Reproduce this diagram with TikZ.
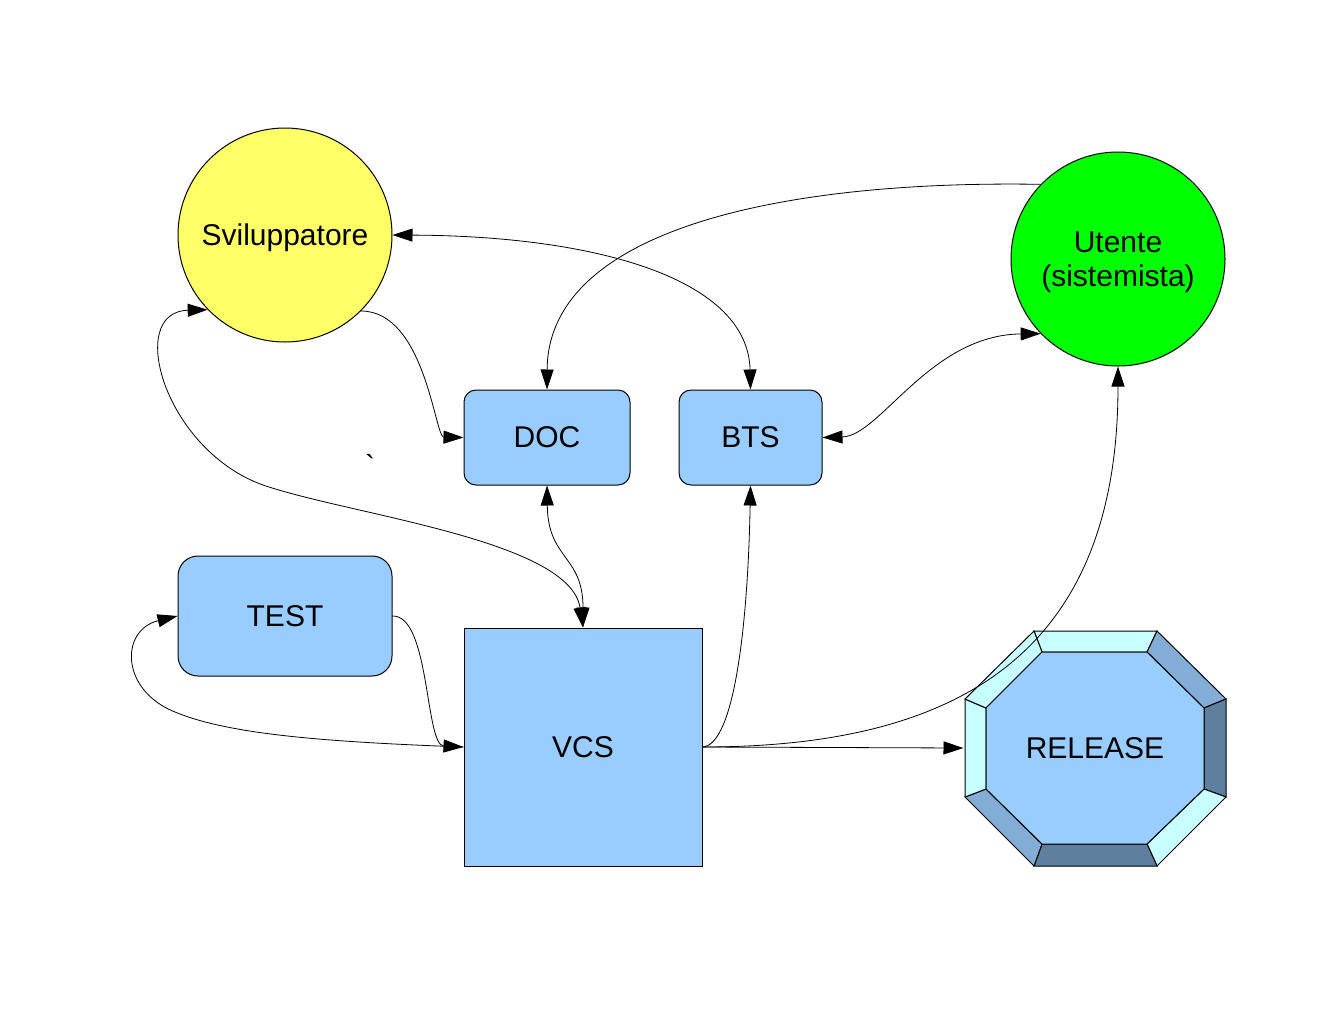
\documentclass[tikz,border=0pt]{standalone}
\usepackage{fontspec}
\setmainfont{Liberation Sans}
\usepackage{tikz}
\usetikzlibrary{arrows.meta, positioning}
\definecolor{devyellow}{RGB}{255,255,102}
\definecolor{usrgreen}{RGB}{0,255,0}
\definecolor{toolblue}{RGB}{153,204,255}
\definecolor{bevlight}{RGB}{200,255,255}
\definecolor{bevmid}{RGB}{131,173,215}
\definecolor{bevdark}{RGB}{95,127,159}
\newcommand{\diagfont}{\fontsize{30}{34}\selectfont}

\begin{document}
\begin{tikzpicture}[x=1pt, y=-1pt, line width=1pt,
  >={Triangle[length=20pt, width=13pt]},
  actor/.style={circle, draw, inner sep=0pt, minimum size=214pt, align=center, text depth=0pt, font=\diagfont},
  toolbox/.style={draw, fill=toolblue, rounded corners=12pt, inner sep=0pt, minimum height=95pt, font=\diagfont},
  flow/.style={line width=0.8pt}]
  \useasboundingbox (0,0) rectangle (1331,1029);

  % actors
  \node[actor, fill=devyellow] (svil) at (285,235) {Sviluppatore};
  \node[actor, fill=usrgreen] (utente) at (1118,259) {Utente\\(sistemista)};

  % tools
  \node[toolbox, minimum width=166pt] (doc) at (547,437.5) {DOC};
  \node[toolbox, minimum width=143pt, right=48pt of doc] (bts) {BTS};
  \node[toolbox, minimum width=214pt, minimum height=120pt, rounded corners=20pt] (test) at (285,616) {TEST};
  \node[draw, fill=toolblue, inner sep=0pt, minimum size=238pt, font=\diagfont] (vcs) at (583,747) {VCS};

  % release: bevelled octagon
  \filldraw[fill=bevlight] (1034,631) -- (1157,631) -- (1147,652) -- (1042,652) -- cycle;
  \filldraw[fill=bevmid] (1157,631) -- (1226,699) -- (1204,708) -- (1147,652) -- cycle;
  \filldraw[fill=bevdark] (1226,699) -- (1226,797) -- (1204,789) -- (1204,708) -- cycle;
  \filldraw[fill=bevlight] (1226,797) -- (1157,866) -- (1147,844) -- (1204,789) -- cycle;
  \filldraw[fill=bevdark] (1157,866) -- (1034,866) -- (1042,844) -- (1147,844) -- cycle;
  \filldraw[fill=bevmid] (1034,866) -- (965,797) -- (986,789) -- (1042,844) -- cycle;
  \filldraw[fill=bevlight] (965,797) -- (965,699) -- (986,708) -- (986,789) -- cycle;
  \filldraw[fill=bevlight] (965,699) -- (1034,631) -- (1042,652) -- (986,708) -- cycle;
  \filldraw[fill=toolblue] (1042,652) -- (1147,652) -- (1204,708) -- (1204,789)
    -- (1147,844) -- (1042,844) -- (986,789) -- (986,708) -- cycle;
  \node[inner sep=0pt, minimum width=262pt, minimum height=236pt, font=\diagfont] (rel) at (1095,748) {RELEASE};

  \node[inner sep=0pt, anchor=north, font=\diagfont] (tick) at (370,454) {\textasciigrave};

  % connectors
  \draw[flow, ->] (svil.-45) .. controls (425,311) and (435,437) .. (doc.west);
  \draw[flow, <->] (svil.east) .. controls (600,236) and (748,280) .. (bts.north);
  \draw[flow, ->] (utente.136) .. controls (780,180) and (548,230) .. (doc.north);
  \draw[flow, <->] (utente.224) .. controls (930,335) and (880,436) .. (bts.east);
  \draw[flow, <->] (svil.224) .. controls (125,312) and (165,450) .. (263,485)
    .. controls (350,515) and (570,540) .. (vcs.north);
  \draw[flow, <->] (doc.south) .. controls (548,560) and (583,555) .. (vcs.north);
  \draw[flow, ->] (test.east) .. controls (430,615) and (425,745) .. (vcs.west);
  \draw[flow, ->] (vcs.west) .. controls (330,742) and (230,735) .. (175,712)
    .. controls (120,690) and (120,630) .. (test.west);
  \draw[flow, ->] (vcs.east) .. controls (735,745) and (748,620) .. (bts.south);
  \draw[flow, ->] (vcs.east) .. controls (950,747) and (1118,660) .. (utente.south);
  \draw[flow, ->] (vcs.east) -- (rel.west);
\end{tikzpicture}
\end{document}
